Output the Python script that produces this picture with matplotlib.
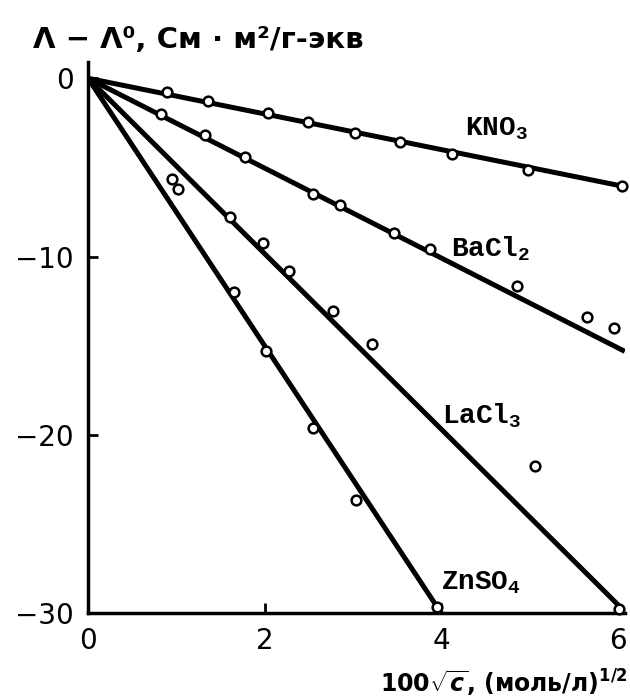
import matplotlib.pyplot as plt
import numpy as np

# measured points, x = 100*sqrt(c), y = Lambda - Lambda0
kno3_x = [0.89, 1.36, 2.04, 2.49, 3.02, 3.53, 4.12, 4.98, 6.05]
kno3_y = [-0.79, -1.29, -1.97, -2.47, -3.09, -3.60, -4.27, -5.17, -6.07]

bacl2_x = [0.83, 1.33, 1.78, 2.55, 2.85, 3.47, 3.87, 4.86, 5.65, 5.96]
bacl2_y = [-1.98, -3.20, -4.42, -6.48, -7.13, -8.69, -9.57, -11.67, -13.37, -14.03]

lacl3_x = [1.02, 1.61, 1.98, 2.28, 2.78, 3.22, 5.06, 6.02]
lacl3_y = [-6.20, -7.79, -9.25, -10.79, -13.07, -14.89, -21.74, -29.8]

znso4_x = [0.95, 1.65, 2.02, 2.55, 3.04, 3.95]
znso4_y = [-5.63, -12.0, -15.32, -19.62, -23.67, -29.66]

# limiting slopes of the straight lines
names = ['KNO$_3$', 'BaCl$_2$', 'LaCl$_3$', 'ZnSO$_4$']
slopes = [-1.0, -2.52, -4.92, -7.5]
label_x = [4.63, 4.56, 4.46, 4.45]
label_y = [-2.8, -9.55, -18.9, -28.3]

plt.rcParams['mathtext.fontset'] = 'custom'
plt.rcParams['mathtext.rm'] = 'Liberation Mono:bold'
plt.rcParams['mathtext.sf'] = 'DejaVu Sans:bold'
plt.rcParams['mathtext.it'] = 'DejaVu Sans:italic:bold'


def main():
    fig = plt.figure(figsize=(6.3, 6.99), dpi=100)
    ax = fig.add_axes([0.1397, 0.123, 0.852, 0.788])

    x_line = np.array([0, 6.08])
    for k in slopes:
        ax.plot(x_line, k * x_line, color='black', lw=3.6, solid_capstyle='butt')

    for xs, ys in [(kno3_x, kno3_y), (bacl2_x, bacl2_y), (lacl3_x, lacl3_y), (znso4_x, znso4_y)]:
        ax.plot(xs, ys, 'o', ms=7, mfc='white', mec='black', mew=1.8, clip_on=False, zorder=3)

    for name, lx, ly in zip(names, label_x, label_y):
        ax.text(lx, ly, name, fontsize=20, family='Liberation Mono',
                fontweight='bold', ha='center', va='center')

    ax.set_xlim(0, 6.08)
    ax.set_ylim(-30, 0.9)
    ax.set_xticks([0, 2, 4, 6])
    ax.set_yticks([0, -10, -20, -30])
    ax.spines['top'].set_visible(False)
    ax.spines['right'].set_visible(False)
    ax.spines['left'].set_linewidth(2.5)
    ax.spines['bottom'].set_linewidth(2.5)
    ax.tick_params(direction='in', length=7, width=2, labelsize=20, pad=10)

    fig.text(33 / 630, 1 - 40 / 699, 'Λ − Λ⁰, См · м²/г-экв',
             fontsize=21, fontweight='bold', ha='left', va='center')
    fig.text(628 / 630, 1 - 683 / 699, r'100$\sqrt{c}$, (моль/л)$^{\mathsf{1/2}}$',
             fontsize=17, fontweight='bold', ha='right', va='center')

    plt.savefig('out.png', dpi=100)


main()
